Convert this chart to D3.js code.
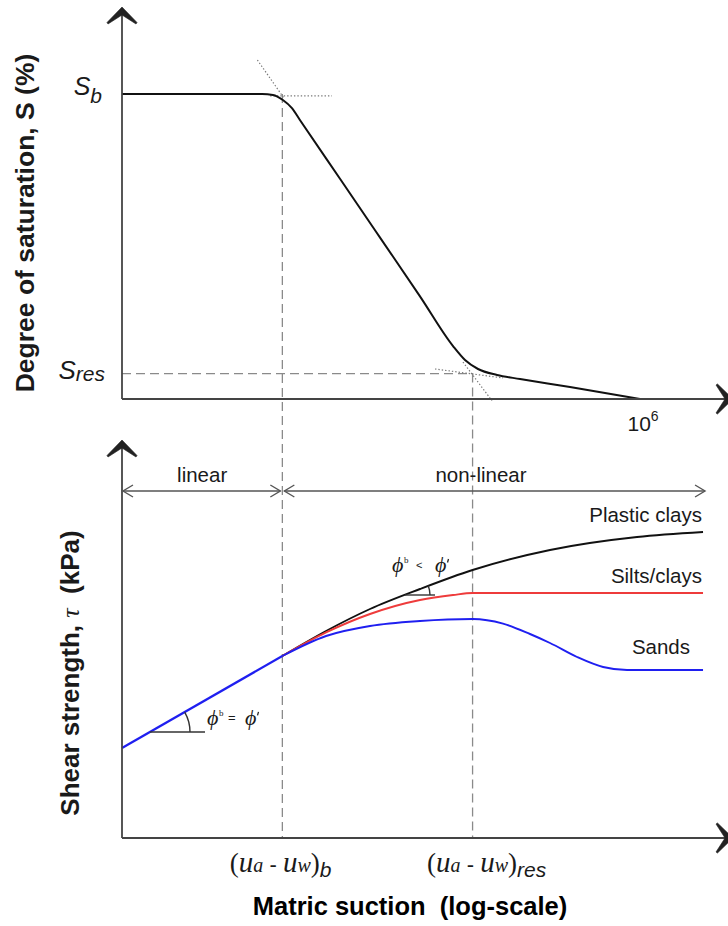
<!DOCTYPE html>
<html>
<head>
<meta charset="utf-8">
<script src="https://cdn.jsdelivr.net/npm/d3@7"></script>
<style>
  body { margin: 0; background: #fff; }
  text { font-family: "Liberation Sans", Arial, sans-serif; fill: #1a1a1a; }
  .serif { font-family: "Liberation Serif", "DejaVu Serif", serif; }
</style>
</head>
<body>
<svg id="chart" width="728" height="926"></svg>
<script>
// Characteristic suctions (kPa) and saturations (%)
const AEV = 72;        // air-entry value, (ua - uw)b
const RES = 11500;     // residual suction, (ua - uw)res
const SB = 90;         // saturation at air entry
const SRES = 7.5;      // residual saturation

// Soil-water characteristic curve: degree of saturation vs matric suction
const swccSuction = [1, 42, 56, 73, 93, 115, 335, 975, 2830, 6830, 9400, 13300, 22100, 40800, 154600, 1e6];
const swccSat     = [90, 90, 89.7, 88.2, 85.8, 82.3, 64.96, 47.6, 30.27, 15.6, 11.5, 8.85, 7.08, 5.9, 3.54, 0];

// Tangent construction lines on the SWCC
const tanUpperSuction = [37, 74],      tanUpperSat = [100, 89];
const sbGuideSuction  = [52, 270],     sbGuideSat  = [89.4, 89.4];
const tanLowerSuction = [8900, 19300], tanLowerSat = [10.9, -0.5];
const resGuideSuction = [4220, 25900], resGuideSat = [8.85, 6.2];

// Shear strength envelopes (arbitrary shear units)
const linearSuction = [1, AEV];
const linearTau     = [22.5, 45.5];
const clayPlSuction = [AEV, 231, 746, 2830, RES, 90700, 924000, 5370000];
const clayPlTau     = [45.5, 51.75, 57.25, 62.25, 67, 72, 75.25, 76.5];
const siltSuction   = [AEV, 231, 746, 2830, 6830, RES, 5370000];
const siltTau       = [45.5, 51.4, 56, 59.5, 60.75, 61.25, 61.25];
const sandSuction   = [AEV, 231, 746, 2830, RES, 25900, 53200, 90700, 186500, 373500, 708000, 5370000];
const sandTau       = [45.5, 50.5, 53, 54.25, 54.75, 53.6, 51, 48.75, 45.25, 42.75, 42, 42];

const seriesLabels = ["Plastic clays", "Silts/clays", "Sands"];
const topTicks = [1e6];

const svg = d3.select("#chart");
const zip = (a, b) => a.map((v, i) => [v, b[i]]);

const x  = d3.scaleLog().domain([1, 1e6]).range([122, 640]);
const yS = d3.scaleLinear().domain([0, 100]).range([399, 60]);
const yT = d3.scaleLinear().domain([0, 100]).range([838, 438]);
const xTip = 733;           // right arrow tip of both suction axes
const ySTip = 7, yTTip = 440;

const lineS = d3.line().x(d => x(d[0])).y(d => yS(d[1])).curve(d3.curveMonotoneX);
const lineT = d3.line().x(d => x(d[0])).y(d => yT(d[1])).curve(d3.curveMonotoneX);
const straightS = d3.line().x(d => x(d[0])).y(d => yS(d[1]));

// barbed arrowhead pointing "up" in local coords, rotated into place
function arrowHead(px, py, angle) {
  svg.append("path")
    .attr("d", "M0,0 L-15,15.5 L-14,17 L0,8 L14,17 L15,15.5 Z")
    .attr("transform", `translate(${px},${py}) rotate(${angle})`)
    .attr("fill", "#222").attr("stroke", "#222").attr("stroke-width", 0.6)
    .attr("stroke-linejoin", "round");
}
function axisLine(x1, y1, x2, y2) {
  svg.append("line").attr("x1", x1).attr("y1", y1).attr("x2", x2).attr("y2", y2)
    .attr("stroke", "#444").attr("stroke-width", 1.8);
}

// ---------- dashed reference lines ----------
const dash = g => g.attr("stroke", "#8a8a8a").attr("stroke-width", 1.3)
  .attr("stroke-dasharray", "9,5").attr("fill", "none");
svg.append("line").attr("x1", x(AEV)).attr("x2", x(AEV))
  .attr("y1", yS(SB)).attr("y2", yT(0)).call(dash);
svg.append("line").attr("x1", x(RES)).attr("x2", x(RES))
  .attr("y1", yS(SRES)).attr("y2", yT(0)).call(dash);
svg.append("line").attr("x1", x(1)).attr("x2", x(RES))
  .attr("y1", yS(SRES)).attr("y2", yS(SRES)).call(dash);

// ---------- tangent construction lines ----------
[[tanUpperSuction, tanUpperSat], [sbGuideSuction, sbGuideSat],
 [tanLowerSuction, tanLowerSat], [resGuideSuction, resGuideSat]].forEach(([s, v]) => {
  svg.append("path").attr("d", straightS(zip(s, v)))
    .attr("fill", "none").attr("stroke", "#7a7a7a").attr("stroke-width", 1.2)
    .attr("stroke-dasharray", "1.4,2");
});

// ---------- SWCC ----------
svg.append("path").attr("d", lineS(zip(swccSuction, swccSat)))
  .attr("fill", "none").attr("stroke", "#111").attr("stroke-width", 2);

// ---------- top panel axes ----------
axisLine(x(1), yS(0), x(1), ySTip + 4);
axisLine(x(1), yS(0), xTip - 4, yS(0));
arrowHead(x(1), ySTip, 0);
arrowHead(xTip, yS(0), 90);

const gTopX = svg.append("g").attr("transform", `translate(0,${yS(0)})`)
  .call(d3.axisBottom(x).tickValues(topTicks).tickSize(0).tickFormat(""));
gTopX.select(".domain").remove();
const t6 = gTopX.selectAll(".tick").append("text")
  .attr("x", -13).attr("y", 32).attr("text-anchor", "start").attr("fill", "#1a1a1a")
  .style("font-size", "21px");
t6.append("tspan").text("10");
t6.append("tspan").attr("dy", -10).style("font-size", "14px").text("6");

const gTopY = svg.append("g").attr("transform", `translate(${x(1)},0)`)
  .call(d3.axisLeft(yS).tickValues([SB, SRES]).tickSize(0).tickFormat(""));
gTopY.select(".domain").remove();
gTopY.selectAll(".tick").each(function (d) {
  const t = d3.select(this).append("text").attr("text-anchor", "end")
    .attr("fill", "#1a1a1a").style("font-style", "italic");
  if (d === SB) {
    t.attr("x", -20).attr("y", 0.5);
    t.append("tspan").style("font-size", "25px").text("S");
    t.append("tspan").attr("dy", 8).style("font-size", "21px").text("b");
  } else {
    t.attr("x", -17).attr("y", 4.5);
    t.append("tspan").style("font-size", "26px").text("S");
    t.append("tspan").attr("dy", 2).style("font-size", "21px").text("res");
  }
});

svg.append("text")
  .attr("transform", `translate(34,${(yS(0) + ySTip) / 2 + 20}) rotate(-90)`)
  .attr("text-anchor", "middle").style("font-size", "26.5px").style("font-weight", "bold")
  .text("Degree of saturation, S (%)");

// ---------- bottom panel: shear strength ----------
const envelopes = [
  { s: clayPlSuction, t: clayPlTau, color: "#111", label: seriesLabels[0], dx: -1, dy: -10 },
  { s: siltSuction,   t: siltTau,   color: "#ee3b3b", label: seriesLabels[1], dx: -1, dy: -10 },
  { s: sandSuction,   t: sandTau,   color: "#1f1ff0", label: seriesLabels[2], dx: -13, dy: -16 }
];
envelopes.forEach(e => {
  svg.append("path").attr("d", lineT(zip(e.s, e.t)))
    .attr("fill", "none").attr("stroke", e.color).attr("stroke-width", 1.9);
});
svg.append("path").attr("d", d3.line().x(d => x(d[0])).y(d => yT(d[1]))(zip(linearSuction, linearTau)))
  .attr("fill", "none").attr("stroke", "#1f1ff0").attr("stroke-width", 2.2);

envelopes.forEach(e => {
  const n = e.s.length - 1;
  svg.append("text").attr("x", x(e.s[n]) + e.dx).attr("y", yT(e.t[n]) + e.dy)
    .attr("text-anchor", "end").style("font-size", "20.5px").text(e.label);
});

// angle markers: horizontal leg plus arc up to the envelope
function logInterp(sArr, tArr, s) {
  const ls = Math.log10(s);
  for (let i = 0; i < sArr.length - 1; i++) {
    const a = Math.log10(sArr[i]), b = Math.log10(sArr[i + 1]);
    if (ls >= a && ls <= b) return tArr[i] + (tArr[i + 1] - tArr[i]) * (ls - a) / (b - a);
  }
  return tArr[tArr.length - 1];
}
function angleMark(sArr, tArr, s, leg, r) {
  const px = x(s), py = yT(logInterp(sArr, tArr, s));
  // local slope of the envelope in screen space
  const s2 = s * 1.15;
  const ang = Math.atan2(py - yT(logInterp(sArr, tArr, s2)), x(s2) - px);
  svg.append("line").attr("x1", px).attr("y1", py).attr("x2", px + leg).attr("y2", py)
    .attr("stroke", "#333").attr("stroke-width", 1.4);
  const arc = d3.path();
  arc.moveTo(px + r, py);
  arc.arc(px, py, r, 0, -ang, true);
  svg.append("path").attr("d", arc.toString()).attr("fill", "none")
    .attr("stroke", "#333").attr("stroke-width", 1.4);
  return [px, py];
}
function phiText(px, py, rel) {
  const g = svg.append("g").attr("transform", `translate(${px},${py})`);
  const x2 = rel === "=" ? 38 : 43;
  g.append("text").attr("class", "serif").attr("x", 0).attr("y", 0)
    .style("font-size", "22px").style("font-style", "italic").text("ϕ");
  g.append("text").attr("class", "serif").attr("x", 12).attr("y", -9)
    .style("font-size", "9px").text("b");
  g.append("text").attr("x", rel === "=" ? 21 : 24).attr("y", -3)
    .style("font-size", rel === "=" ? "13px" : "11px").text(rel);
  g.append("text").attr("class", "serif").attr("x", x2).attr("y", 0)
    .style("font-size", "22px").style("font-style", "italic").text("ϕ");
  // prime mark
  g.append("line").attr("x1", x2 + 13.5).attr("y1", -13).attr("x2", x2 + 12.5).attr("y2", -9.5)
    .attr("stroke", "#222").attr("stroke-width", 1.3);
}
const m1 = angleMark(linearSuction, linearTau, 2.11, 55, 40);
phiText(m1[0] + 57, m1[1] - 7, "=");
const m2 = angleMark(clayPlSuction, clayPlTau, 1897, 30, 25);
phiText(m2[0] - 13, m2[1] - 23, "<");

// ---------- bottom panel axes ----------
axisLine(x(1), yT(0), x(1), yTTip + 4);
axisLine(x(1), yT(0), xTip - 4, yT(0));
arrowHead(x(1), yTTip, 0);
arrowHead(xTip, yT(0), 90);

const gBotX = svg.append("g").attr("transform", `translate(0,${yT(0)})`)
  .call(d3.axisBottom(x).tickValues([AEV, RES]).tickSize(0).tickFormat(""));
gBotX.select(".domain").remove();
gBotX.selectAll(".tick").each(function (d) {
  const t = d3.select(this).append("text").attr("text-anchor", "start")
    .attr("y", 34).attr("x", d === AEV ? -53 : -46).attr("fill", "#1a1a1a");
  const serif = "'Liberation Serif', 'DejaVu Serif', serif";
  t.append("tspan").style("font-family", serif).style("font-size", "27px").text("(");
  t.append("tspan").style("font-family", serif).style("font-style", "italic").style("font-size", "29px").text("u");
  t.append("tspan").style("font-family", serif).style("font-style", "italic").style("font-size", "20px").text("a");
  t.append("tspan").style("font-size", "22px").attr("xml:space", "preserve").text(" - ");
  t.append("tspan").style("font-family", serif).style("font-style", "italic").style("font-size", "29px").text("u");
  t.append("tspan").style("font-family", serif).style("font-style", "italic").style("font-size", "20px").text("w");
  t.append("tspan").style("font-family", serif).style("font-size", "27px").text(")");
  t.append("tspan").attr("dy", 5).style("font-style", "italic").style("font-size", "21px")
    .text(d === AEV ? "b" : "res");
});

// range arrows above the envelopes
function rangeArrow(x1, x2, yy) {
  svg.append("line").attr("x1", x1).attr("x2", x2).attr("y1", yy).attr("y2", yy)
    .attr("stroke", "#555").attr("stroke-width", 1.4);
  const head = (tx, dir) => svg.append("path")
    .attr("d", `M${tx + dir * 10},${yy - 6} L${tx},${yy} L${tx + dir * 10},${yy + 6}`)
    .attr("fill", "none").attr("stroke", "#555").attr("stroke-width", 1.4);
  head(x1, 1); head(x2, -1);
}
const arrowY = 491;
rangeArrow(x(1) + 1, x(AEV) - 2, arrowY);
rangeArrow(x(AEV) + 2, x(5370000) + 2, arrowY);
svg.append("text").attr("x", (x(1) + x(AEV)) / 2).attr("y", arrowY - 9)
  .attr("text-anchor", "middle").style("font-size", "20.5px").text("linear");
svg.append("text").attr("x", 481).attr("y", arrowY - 9)
  .attr("text-anchor", "middle").style("font-size", "20.5px").text("non-linear");

svg.append("text")
  .attr("transform", `translate(79,${(yT(0) + yTTip) / 2 + 34}) rotate(-90)`)
  .attr("text-anchor", "middle").style("font-size", "26px").style("font-weight", "bold")
  .each(function () {
    const t = d3.select(this);
    t.append("tspan").text("Shear strength, ");
    t.append("tspan").attr("class", "serif").style("font-weight", "normal")
      .style("font-style", "italic").style("font-family", "'Liberation Serif', serif").text("τ");
    t.append("tspan").attr("xml:space", "preserve").text("  (kPa)");
  });

svg.append("text").attr("x", 410).attr("y", 915).attr("text-anchor", "middle")
  .attr("xml:space", "preserve")
  .style("font-size", "25.5px").style("font-weight", "bold").style("fill", "#000")
  .text("Matric suction  (log-scale)");
</script>
</body>
</html>
